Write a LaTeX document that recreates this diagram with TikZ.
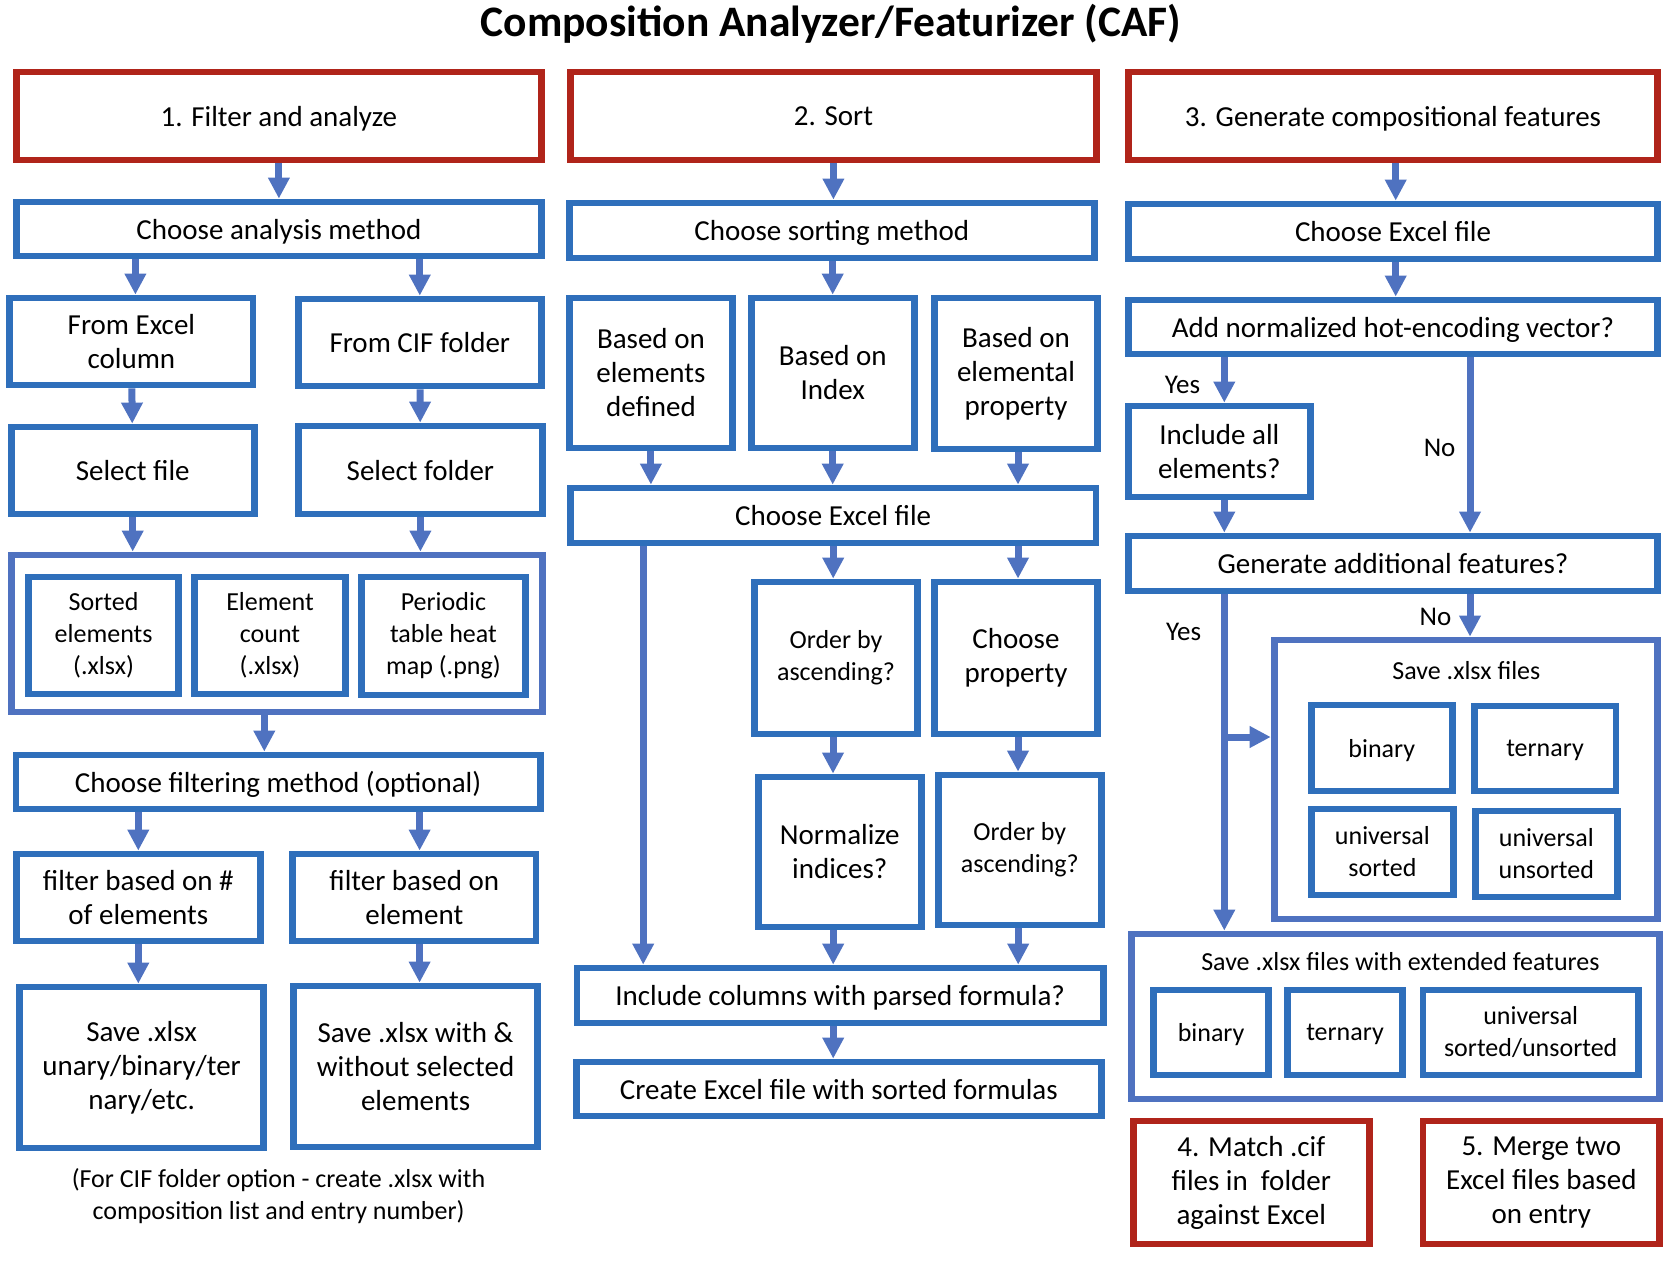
\documentclass[tikz,border=0pt]{standalone}
\usepackage{fontspec}
\setmainfont{Carlito}
\usetikzlibrary{arrows.meta}
\definecolor{boxblue}{RGB}{47,111,187}
\definecolor{arrblue}{RGB}{79,114,192}
\definecolor{hdred}{RGB}{176,36,26}

\begin{document}
\begin{tikzpicture}[x=1pt,y=-1pt,
    box/.style={draw=boxblue, line width=6.8pt, align=center, inner sep=0pt, font=\fontsize{29}{34}\selectfont},
    smallbox/.style={box, font=\fontsize{26}{32}\selectfont},
    redbox/.style={box, draw=hdred},
    oneline/.style={text depth=0pt},
    grp/.style={draw=arrblue, line width=6.8pt, inner sep=0pt},
    arr/.style={draw=arrblue, line width=7pt, -{Triangle[length=21pt,width=20.5pt]}},
    lbl/.style={inner sep=0pt, font=\fontsize{27}{32}\selectfont}]
    \useasboundingbox (0,0) rectangle (1677,1284);

    % Title
    \node[anchor=base, font=\fontsize{43.5}{52}\selectfont\bfseries] (title) at (831,37) {Composition Analyzer/Featurizer (CAF)};

    % 1. Filter and analyze
    \node[redbox, oneline, minimum width=524.6pt, minimum height=88pt] (h1) at (278.9,116) {1. Filter and analyze};
    \node[box, oneline, minimum width=524.6pt, minimum height=54pt] (c1) at (278.9,229) {Choose analysis method};
    \node[box, minimum width=243.2pt, minimum height=87pt] (excel) at (131.4,341.5) {From Excel\\column};
    \node[box, oneline, minimum width=242.8pt, minimum height=87pt] (cif) at (419.8,342.5) {From CIF folder};
    \node[box, oneline, minimum width=242.8pt, minimum height=87pt] (selfile) at (132.7,470.5) {Select file};
    \node[box, oneline, minimum width=243.9pt, minimum height=88pt] (selfolder) at (420.4,470) {Select folder};
    \node[grp, minimum width=531pt, minimum height=157pt] (outputs) at (276.8,633.5) {};
    \node[smallbox, minimum width=150.3pt, minimum height=117pt] (sorted) at (103.6,635.5) {Sorted\\elements\\(.xlsx)};
    \node[smallbox, minimum width=151pt, minimum height=117pt] (count) at (270,635.5) {Element\\count\\(.xlsx)};
    \node[smallbox, minimum width=164.2pt, minimum height=118pt] (periodic) at (443.4,636) {Periodic\\table heat\\map (.png)};
    \node[box, oneline, minimum width=524.3pt, minimum height=54pt] (filtmeth) at (278.1,782) {Choose filtering method (optional)};
    \node[box, minimum width=243.9pt, minimum height=87pt] (fnum) at (138.3,897.5) {filter based on \#\\of elements};
    \node[box, minimum width=243.2pt, minimum height=87pt] (felem) at (414.3,897.5) {filter based on\\element};
    \node[box, minimum width=244.2pt, minimum height=161pt] (savenum) at (141.6,1067.5) {Save .xlsx\\unary/binary/ter\\nary/etc.};
    \node[box, minimum width=244.3pt, minimum height=161pt] (saveelem) at (415.6,1066.5) {Save .xlsx with \&\\without selected\\elements};
    \node[lbl, align=center, font=\fontsize{26}{32}\selectfont] (note) at (278.6,1196) {(For CIF folder option - create .xlsx with\\composition list and entry number)};

    \draw[arr] (h1) -- (c1);
    \draw[arr] ([xshift=4pt]c1.south -| excel) -- ([xshift=4pt]excel.north);
    \draw[arr] (c1.south -| cif) -- (cif);
    \draw[arr] (excel) -- (selfile);
    \draw[arr] (cif) -- (selfolder);
    \draw[arr] (selfile) -- (selfile |- outputs.north);
    \draw[arr] (selfolder) -- (selfolder |- outputs.north);
    \draw[arr] ([xshift=-12.5pt]outputs.south) -- ([xshift=-12.5pt]outputs.south |- filtmeth.north);
    \draw[arr] (filtmeth.south -| fnum) -- (fnum);
    \draw[arr] ([xshift=5.3pt]felem.north |- filtmeth.south) -- ([xshift=5.3pt]felem.north);
    \draw[arr] (fnum) -- (fnum |- savenum.north);
    \draw[arr] ([xshift=5.3pt]felem.south) -- ([xshift=5.3pt]felem.south |- saveelem.north);

    % 2. Sort
    \node[redbox, oneline, minimum width=525.7pt, minimum height=88pt] (h2) at (833.4,116) {2. Sort};
    \node[box, oneline, minimum width=524.6pt, minimum height=55pt] (c2) at (831.8,230.5) {Choose sorting method};
    \node[box, minimum width=162.8pt, minimum height=150pt] (bdef) at (650.9,373) {Based on\\elements\\defined};
    \node[box, minimum width=162.8pt, minimum height=150pt] (bidx) at (832.7,373) {Based on\\Index};
    \node[box, minimum width=162.5pt, minimum height=151pt] (bprop) at (1016,373.5) {Based on\\elemental\\property};
    \node[box, oneline, minimum width=525.4pt, minimum height=55pt] (excel2) at (833.2,515.5) {Choose Excel file};
    \node[smallbox, minimum width=162.5pt, minimum height=152pt] (ordasc) at (836,658) {Order by\\ascending?};
    \node[box, minimum width=162.5pt, minimum height=152pt] (chprop) at (1016,658) {Choose\\property};
    \node[box, minimum width=162.8pt, minimum height=150pt] (normidx) at (839.8,852) {Normalize\\indices?};
    \node[smallbox, minimum width=162.8pt, minimum height=150pt] (ordasc2) at (1019.8,850) {Order by\\ascending?};
    \node[box, oneline, minimum width=526.4pt, minimum height=55pt] (incl) at (840.2,995.5) {Include columns with parsed formula?};
    \node[box, oneline, minimum width=524.9pt, minimum height=54pt] (create) at (838.8,1089) {Create Excel file with sorted formulas};

    \draw[arr] (h2) -- (h2 |- c2.north);
    \draw[arr] (c2.south -| bidx) -- (bidx);
    \draw[arr] (bdef) -- (bdef |- excel2.north);
    \draw[arr] (bidx) -- (bidx |- excel2.north);
    \draw[arr] ([xshift=2pt]bprop.south) -- ([xshift=2pt]bprop.south |- excel2.north);
    \draw[arr] (excel2.south) -- (excel2.south |- ordasc.north);
    \draw[arr] ([xshift=2pt]excel2.south -| chprop) -- ([xshift=2pt]chprop.north);
    \draw[arr] ([xshift=-3pt]ordasc.south) -- ([xshift=-3pt]ordasc.south |- normidx.north);
    \draw[arr] ([xshift=2pt]chprop.south) -- ([xshift=2pt]chprop.south |- ordasc2.north);
    \draw[arr] ([xshift=-6.6pt]normidx.south) -- ([xshift=-6.6pt]normidx.south |- incl.north);
    \draw[arr] ([xshift=-1.6pt]ordasc2.south) -- ([xshift=-1.6pt]ordasc2.south |- incl.north);
    \draw[arr] ([xshift=-190pt]excel2.south) -- ([xshift=-190pt]excel2.south |- incl.north);
    \draw[arr] ([xshift=-7pt]incl.south) -- ([xshift=-7pt]incl.south |- create.north);

    % 3. Generate compositional features
    \node[redbox, oneline, minimum width=529.3pt, minimum height=88pt] (h3) at (1393,116) {3. Generate compositional features};
    \node[box, oneline, minimum width=529.3pt, minimum height=55pt] (c3) at (1393,231.5) {Choose Excel file};
    \node[box, oneline, minimum width=529.3pt, minimum height=54pt] (hot) at (1393,327) {Add normalized hot-encoding vector?};
    \node[box, minimum width=181.8pt, minimum height=91pt] (inclall) at (1219.3,451.5) {Include all\\elements?};
    \node[box, oneline, minimum width=529.3pt, minimum height=55pt] (genadd) at (1393,563.5) {Generate additional features?};
    \node[grp, minimum width=383.6pt, minimum height=279pt] (savefiles) at (1465.9,779.5) {};
    \node[lbl, font=\fontsize{26}{32}\selectfont] (savetitle) at (1466.4,671) {Save .xlsx files};
    \node[smallbox, oneline, minimum width=141pt, minimum height=86pt] (sbin) at (1381.8,748) {binary};
    \node[smallbox, oneline, minimum width=141.8pt, minimum height=85pt] (ster) at (1545,748.5) {ternary};
    \node[smallbox, minimum width=142.1pt, minimum height=86pt] (suni) at (1382.4,852) {universal\\sorted};
    \node[smallbox, minimum width=142.1pt, minimum height=86pt] (sunu) at (1546.3,854) {universal\\unsorted};
    \node[grp, minimum width=527.9pt, minimum height=165pt] (extended) at (1395.6,1016.5) {};
    \node[lbl, font=\fontsize{26}{32}\selectfont] (exttitle) at (1400.4,962) {Save .xlsx files with extended features};
    \node[smallbox, oneline, minimum width=114.6pt, minimum height=85pt] (ebin) at (1211.1,1032.5) {binary};
    \node[smallbox, oneline, minimum width=115.4pt, minimum height=85pt] (eter) at (1345,1032.5) {ternary};
    \node[smallbox, minimum width=215.4pt, minimum height=85pt] (euni) at (1530.7,1032.5) {universal\\sorted/unsorted};

    % 4. and 5.
    \node[redbox, minimum width=235.7pt, minimum height=123pt] (match) at (1251.3,1182.5) {4. Match .cif\\files in\ \ folder\\against Excel};
    \node[redbox, minimum width=236.5pt, minimum height=123pt] (merge) at (1541.3,1182.5) {5. Merge two\\Excel files based\\on entry};

    \draw[arr] ([xshift=2.7pt]h3.south) -- ([xshift=2.7pt]h3.south |- c3.north);
    \draw[arr] ([xshift=2.7pt]c3.south) -- ([xshift=2.7pt]c3.south |- hot.north);
    \draw[arr] ([xshift=5pt]hot.south -| inclall) -- ([xshift=5pt]inclall.north);
    \node[lbl] (yes1) at (1182.5,385) {Yes};
    \draw[arr] ([xshift=77pt]hot.south) -- ([xshift=77pt]hot.south |- genadd.north);
    \node[lbl] (no1) at (1439.6,448) {No};
    \draw[arr] ([xshift=5pt]inclall.south) -- ([xshift=5pt]inclall.south |- genadd.north);
    \draw[arr] ([xshift=77pt]genadd.south) -- ([xshift=77pt]genadd.south |- savefiles.north);
    \node[lbl] (no2) at (1435.4,617) {No};
    \draw[arr] ([xshift=5pt]genadd.south -| inclall) -- ([xshift=5pt]inclall.south |- extended.north);
    \node[lbl] (yes2) at (1183.6,632) {Yes};
    \coordinate (br) at (1224.3,737);
    \draw[arr] (br) -- (br -| savefiles.west);

\end{tikzpicture}
\end{document}
